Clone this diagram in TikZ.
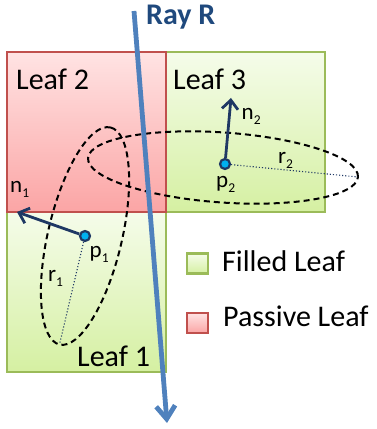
\documentclass[tikz,border=0pt]{standalone}
\usepackage{fontspec}
\setmainfont{Carlito}
\usetikzlibrary{arrows.meta}
\definecolor{rayblue}{HTML}{4F81BD}
\definecolor{navy}{HTML}{1F3864}
\definecolor{raytext}{HTML}{1F497D}
\definecolor{greenborder}{HTML}{9BBB59}
\definecolor{redborder}{HTML}{C0504D}
\definecolor{greentop}{HTML}{F5FCEA}
\definecolor{greenbot}{HTML}{D5F0A2}
\definecolor{redtop}{HTML}{FFE3E3}
\definecolor{redbot}{HTML}{FBA5A5}
\definecolor{ptfill}{HTML}{00B0F0}
\newcommand{\lblsub}[2]{#1\raisebox{-5pt}{\fontsize{13.5}{13.5}\selectfont #2}}
\tikzset{
  leafgreen/.style={draw=greenborder, line width=2.2pt, top color=greentop, bottom color=greenbot,
    minimum width=159pt, minimum height=160pt, inner sep=0pt, outer sep=0pt, anchor=south west},
  leafred/.style={draw=redborder, line width=2.2pt, top color=redtop, bottom color=redbot,
    minimum width=159pt, minimum height=160pt, inner sep=0pt, outer sep=0pt, anchor=south west},
  legendgreen/.style={leafgreen, minimum width=21pt, minimum height=20pt, anchor=center},
  legendred/.style={leafred, minimum width=21pt, minimum height=20pt, anchor=center},
  bigtext/.style={font=\fontsize{30}{30}\selectfont, inner sep=0pt, anchor=base west},
  smalltext/.style={font=\fontsize{23}{23}\selectfont, inner sep=0pt, anchor=base west},
  splat/.style={dash pattern=on 6pt off 4pt, line width=2pt, black},
  radius line/.style={dotted, navy, line width=1.1pt},
  normal arrow/.style={navy, line width=2.8pt, -{Straight Barb[length=9pt,width=16pt]}},
  pointdot/.style={circle, fill=ptfill, draw=navy, line width=2.2pt, minimum size=10pt, inner sep=0pt},
  ray/.style={rayblue, line width=4.8pt, -{Straight Barb[length=13pt,width=19pt]}},
}
\begin{document}
\begin{tikzpicture}[x=1pt,y=1pt]
\useasboundingbox (0,0) rectangle (377,429);
% leaves
\node[leafgreen] (leaf3) at (166,217) {};
\node[leafgreen] (leaf1) at (7,57) {};
\node[leafred] (leaf2) at (7,217) {};
\node[bigtext] (l2) at (16,339) {Leaf 2};
\node[bigtext] (l3) at (173,339) {Leaf 3};
\node[bigtext] (l1) at (77,62) {Leaf 1};
% ellipses
\coordinate (c1) at (85,193);
\coordinate (c2) at (223,261.5);
\draw[splat, rotate around={76.8:(c1)}] (c1) ellipse [x radius=111.5pt, y radius=37pt];
\draw[splat, rotate around={-4:(c2)}] (c2) ellipse [x radius=135.3pt, y radius=35pt];
\coordinate (e1) at (59.5,84.5);
\coordinate (e2) at (358,252);
\coordinate (n1tip) at (17,217);
\coordinate (n2tip) at (231,331);
\node[pointdot] (p1) at (c1) {};
\node[pointdot] (p2) at (225,265) {};
\draw[radius line] (p1) -- (e1);
\draw[radius line] (p2) -- (e2);
\draw[normal arrow] (p1) -- (n1tip);
\draw[normal arrow] (p2) -- (n2tip);
% labels
\node[smalltext] (tn1) at (10,236) {\lblsub{n}{1}};
\node[smalltext] (tn2) at (241.5,309) {\lblsub{n}{2}};
\node[smalltext] (tr2) at (278,265) {\lblsub{r}{2}};
\node[smalltext] (tp2) at (216,241) {\lblsub{p}{2}};
\node[smalltext] (tp1) at (89.5,171.5) {\lblsub{p}{1}};
\node[smalltext] (tr1) at (48,147) {\lblsub{r}{1}};
% legend
\node[legendgreen] (lg1) at (197.5,165.5) {};
\node[legendred] (lg2) at (197.5,106) {};
\node[bigtext] (lt1) at (222,157) {Filled Leaf};
\node[bigtext] (lt2) at (223,102) {Passive Leaf};
% ray
\coordinate (rs) at (134,418);
\coordinate (re) at (167,6);
\draw[ray] (rs) -- (re);
\node[font=\fontsize{30}{30}\selectfont\bfseries, text=raytext, inner sep=0pt, anchor=base west] (rayR) at (146,404) {Ray R};
\end{tikzpicture}
\end{document}
